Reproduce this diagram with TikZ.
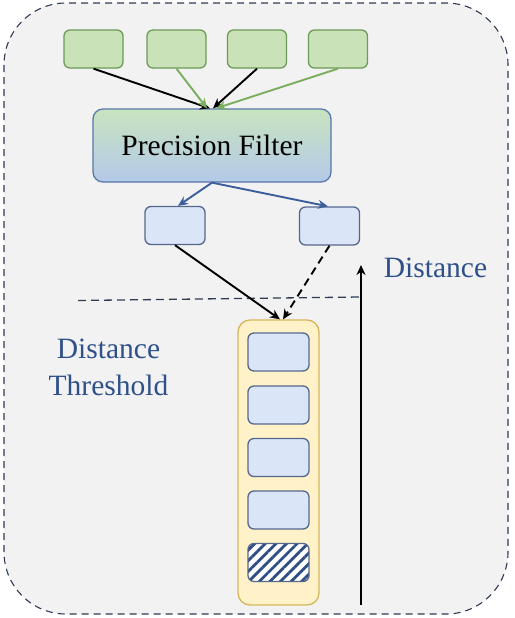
\documentclass[tikz,border=0pt]{standalone}
\usepackage{fontspec}
\setmainfont{Liberation Serif}
\usetikzlibrary{arrows.meta,patterns.meta,shapes.geometric}
\definecolor{bgfill}{HTML}{F2F2F2}
\definecolor{frame}{HTML}{2F3B55}
\definecolor{gfill}{HTML}{C9E2B8}
\definecolor{gdraw}{HTML}{6F9A58}
\definecolor{garrow}{HTML}{7AAE5E}
\definecolor{bfill}{HTML}{DAE6F8}
\definecolor{bdraw}{HTML}{55688C}
\definecolor{barrow}{HTML}{3C5F9C}
\definecolor{yfill}{HTML}{FFF1C8}
\definecolor{ydraw}{HTML}{D4B75C}
\definecolor{txtblue}{HTML}{2F5089}
\definecolor{pftop}{HTML}{C8E4C0}
\definecolor{pfbot}{HTML}{B4C9E8}
\definecolor{hatch}{HTML}{2F4E86}
\tikzset{
  greenbox/.style={draw=gdraw, fill=gfill, line width=1.3pt, rounded corners=6pt, minimum width=59pt, minimum height=38pt, inner sep=0pt},
  bluebox/.style={draw=bdraw, fill=bfill, line width=1.3pt, rounded corners=6pt, minimum width=60pt, minimum height=38pt, inner sep=0pt},
  slotbox/.style={draw=bdraw, fill=bfill, line width=1.3pt, rounded corners=6pt, minimum width=61pt, minimum height=38pt, inner sep=0pt},
  hatchbox/.style={draw=bdraw, line width=1.3pt, rounded corners=6pt, minimum width=61pt, minimum height=38pt, inner sep=0pt,
     preaction={fill=white}, pattern={Lines[angle=45,distance=7.5pt,line width=2.8pt]}, pattern color=hatch},
  colbox/.style={draw=ydraw, fill=yfill, line width=1.3pt, rounded corners=12pt, minimum width=81pt, minimum height=285pt, inner sep=0pt},
  pfbox/.style={draw=barrow!85, line width=1.3pt, rounded corners=10pt, minimum width=238pt, minimum height=73pt, top color=pftop, bottom color=pfbot, inner sep=0pt, font=\fontsize{29.5}{34}\selectfont},
  arr/.style={line width=1.9pt, -{Stealth[length=10pt,width=9pt]}},
  lbl/.style={text=txtblue, font=\fontsize{29.5}{37}\selectfont, inner sep=0pt}
}
\begin{document}
\begin{tikzpicture}[x=1pt,y=-1pt]
\useasboundingbox (0,0) rectangle (514,618);
\fill[white] (0,0) rectangle (514,618);
\draw[frame, fill=bgfill, dash pattern=on 7pt off 5pt, line width=1.1pt, rounded corners=62pt] (4,3) rectangle (508,614);

\node[greenbox] (g1) at (93.5,49) {};
\node[greenbox] (g2) at (176.5,49) {};
\node[greenbox] (g3) at (257,49) {};
\node[greenbox] (g4) at (338,49) {};

\node[pfbox] (pf) at (212,145.5) {Precision Filter};

\draw[arr] (g1.south) -- ([xshift=-2pt]pf.north);
\draw[arr, garrow] (g2.south) -- ([xshift=-5pt]pf.north);
\draw[arr] (g3.south) -- ([xshift=1pt]pf.north);
\draw[arr, garrow] (g4.south) -- ([xshift=4pt]pf.north);

\node[bluebox] (a) at (175,225.5) {};
\node[bluebox] (b) at (329.5,226) {};

\draw[arr, barrow] (pf.south) -- ([xshift=3pt]a.north);
\draw[arr, barrow] (pf.south) -- ([xshift=-1.5pt]b.north);

\node[colbox] (col) at (278.5,462.5) {};
\node[slotbox] (s1) at (278.5,352) {};
\node[slotbox] (s2) at (278.5,405) {};
\node[slotbox] (s3) at (278.5,457.5) {};
\node[slotbox] (s4) at (278.5,510) {};
\node[hatchbox] (s5) at (278.5,562.5) {};

\coordinate (t1) at (78,300.5);
\coordinate (t2) at (360,297);
\draw[frame, dash pattern=on 8pt off 5pt, line width=1.3pt] (t1) -- (t2);

\draw[arr] (a.south) -- ([xshift=1.5pt]col.north);
\draw[arr, dash pattern=on 8pt off 5pt] (b.south) -- ([xshift=4.5pt]col.north);

\coordinate (v0) at (361,605);
\coordinate (v1) at (361,265);
\draw[arr] (v0) -- (v1);

\node[lbl, anchor=base] (dist) at (435.5,277) {Distance};
\node[lbl, align=center, anchor=base] (thr) at (108.5,395) {Distance\\Threshold};
\end{tikzpicture}
\end{document}
